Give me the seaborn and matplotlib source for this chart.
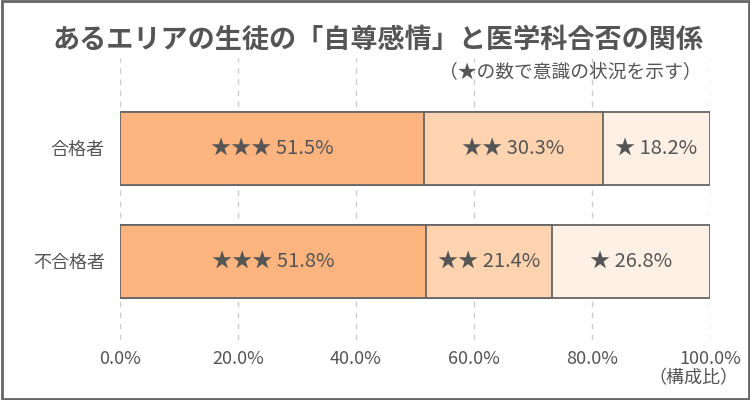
import numpy as np
import pandas as pd
import matplotlib
matplotlib.use("Agg")
import matplotlib.pyplot as plt
import seaborn as sns
from matplotlib.patches import Rectangle

# data
groups = ["合格者", "不合格者"]
levels = ["★★★", "★★", "★"]
high = [51.5, 51.8]
mid = [30.3, 21.4]
low = [18.2, 26.8]
colors = ["#FDB47E", "#FED3AF", "#FEF0E4"]

sns.set_theme(style="white")
plt.rcParams["font.family"] = ["Noto Sans CJK JP", "DejaVu Sans"]

txt = "#555555"
fig = plt.figure(figsize=(7.5, 4), dpi=100)
ax = fig.add_axes([0.16, 0.15, 0.7867, 0.705])

vals = np.array([high, mid, low])
cum = vals.cumsum(axis=0)

# draw stacked bars from the total down, so each shorter one covers the last
for i in [2, 1, 0]:
    df = pd.DataFrame({"group": groups, "value": cum[i]})
    sns.barplot(data=df, x="value", y="group", orient="h", color=colors[i],
                saturation=1, width=0.646, edgecolor="#666666", linewidth=1.3, ax=ax)

# segment labels
for j in range(len(groups)):
    for i in range(3):
        start = cum[i][j] - vals[i][j]
        ax.text(start + vals[i][j] / 2, j, f"{levels[i]} {vals[i][j]:.1f}%",
                ha="center", va="center", fontsize=14.5, color=txt)

ax.set_xlim(0, 100)
ax.set_ylim(1.695, -0.80)
ax.set_xticks([0, 20, 40, 60, 80, 100])
ax.set_xticklabels([f"{t:.1f}%" for t in [0, 20, 40, 60, 80, 100]], fontsize=13, color=txt)
ax.tick_params(axis="x", length=0, pad=7)
ax.tick_params(axis="y", length=0, pad=11, labelsize=13, labelcolor=txt)
ax.set_xlabel("")
ax.set_ylabel("")
ax.xaxis.grid(True, linestyle=(0, (4, 4)), color="#cccccc", linewidth=1)
ax.set_axisbelow(True)
for s in ax.spines.values():
    s.set_visible(False)

fig.text(0.504, 0.9, "あるエリアの生徒の「自尊感情」と医学科合否の関係",
         ha="center", va="center", fontsize=19.5, fontweight="bold", color=txt)
fig.text(0.935, 0.818, "（★の数で意識の状況を示す）", ha="right", va="center",
         fontsize=13.5, color=txt)
fig.text(0.985, 0.055, "（構成比）", ha="right", va="center", fontsize=13, color=txt)

fig.patches.append(Rectangle((0.002, 0.003), 0.996, 0.994, transform=fig.transFigure,
                             fill=False, edgecolor="#666666", linewidth=2))

fig.savefig("out.png", dpi=100)
